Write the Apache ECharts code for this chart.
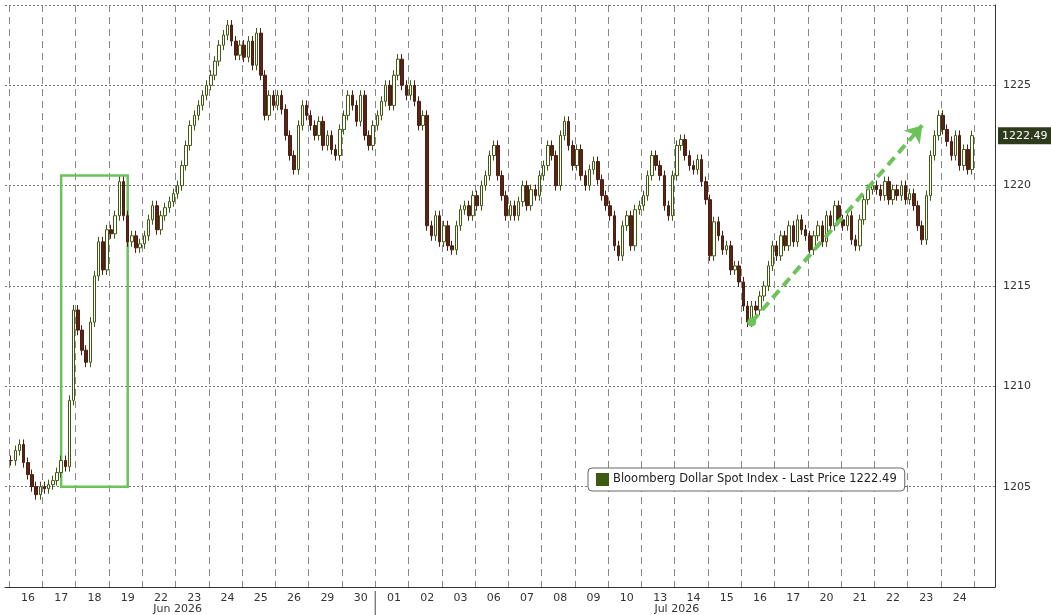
<!DOCTYPE html><html><head><meta charset="utf-8">
<script src="https://cdn.jsdelivr.net/npm/echarts@6/dist/echarts.min.js"></script>
<style>html,body{margin:0;background:#fff}#c{width:1051px;height:615px}</style></head><body><div id="c"></div><script>
const dayLabels=['16','17','18','19','22','23','24','25','26','29','30','01','02','03','06','07','08','09','10','13','14','15','16','17','20','21','22','23','24'];
const closesByDay=[
[1206.3,1206.8,1207.1,1206.2,1205.6,1205.0,1204.6,1205.0],
[1204.9,1205.1,1205.3,1205.7,1206.3,1206.0,1209.3,1213.8],
[1212.8,1211.8,1211.2,1213.2,1215.5,1217.2,1215.8,1217.8],
[1217.6,1218.5,1220.2,1218.5,1217.2,1217.5,1216.9,1217.1],
[1217.5,1218.3,1219.0,1217.8,1218.5,1218.9,1219.2,1219.6],
[1220.0,1221.0,1222.0,1223.0,1223.5,1224.0,1224.5,1225.0],
[1225.5,1226.2,1227.0,1227.5,1228.0,1227.2,1226.5,1227.0],
[1226.4,1227.2,1226.0,1227.6,1225.5,1223.5,1224.5,1224.0],
[1224.5,1223.8,1222.5,1221.5,1220.8,1223.0,1224.0,1223.5],
[1223.0,1222.5,1223.2,1222.0,1222.5,1221.8,1221.5,1222.8],
[1223.5,1224.5,1224.0,1223.2,1224.5,1222.5,1222.0,1223.0],
[1223.5,1224.2,1225.0,1224.0,1225.5,1226.3,1225.0,1224.5],
[1225.0,1224.2,1223.0,1223.5,1218.0,1217.5,1218.5,1217.2],
[1218.0,1217.0,1216.8,1218.0,1218.8,1219.0,1218.5,1219.5],
[1219.0,1220.0,1220.5,1221.5,1222.0,1220.5,1219.5,1218.5],
[1219.0,1218.5,1219.2,1220.0,1219.0,1219.8,1219.5,1220.5],
[1221.0,1222.0,1221.5,1220.0,1222.5,1223.2,1222.0,1221.0],
[1221.8,1220.5,1220.0,1220.8,1221.2,1220.3,1219.5,1219.0],
[1218.5,1217.0,1216.5,1218.0,1218.5,1217.0,1218.8,1219.0],
[1219.5,1220.5,1221.5,1221.0,1220.5,1219.0,1218.5,1220.5],
[1222.0,1222.3,1221.5,1221.0,1220.8,1221.3,1220.2,1219.3],
[1216.5,1218.2,1217.5,1216.8,1217.0,1215.8,1216.0,1215.2],
[1214.0,1213.2,1214.0,1213.8,1214.5,1215.0,1216.0,1217.0],
[1216.5,1217.5,1217.0,1218.0,1217.2,1218.3,1217.8,1217.5],
[1216.8,1217.5,1218.0,1217.2,1218.5,1218.0,1219.0,1218.3],
[1218.0,1218.5,1217.3,1217.0,1218.3,1219.3,1219.8,1220.0],
[1219.8,1219.5,1220.2,1219.3,1219.8,1219.5,1220.0,1219.3],
[1219.6,1219.0,1218.0,1217.3,1219.5,1221.5,1222.5,1223.5],
[1222.8,1222.2,1221.5,1222.5,1221.0,1221.8,1220.8,1222.49]];
const yTicks=[1205,1210,1215,1220,1225];
const lastPrice=1222.49;
const PER=8, LEAD=1, TRAIL=5;
const cats=[], dayLab=[], monthLab=[], ohlc=[];
for(let i=0;i<LEAD;i++){cats.push('');dayLab.push('');monthLab.push('');ohlc.push('-');}
let prev=closesByDay[0][0];
closesByDay.forEach((d,k)=>{d.forEach((c,j)=>{const idx=cats.length;cats.push(String(idx));
 dayLab.push(j===4?dayLabels[k]:'');monthLab.push('');
 const o=prev;ohlc.push([o,c,Math.min(o,c)-0.25,Math.max(o,c)+0.25]);prev=c;});});
for(let i=0;i<TRAIL;i++){cats.push('t'+i);dayLab.push('');monthLab.push('');ohlc.push('-');}
monthLab[41]='Jun 2026';monthLab[161]='Jul 2026';
const julStart=LEAD+11*PER;
const ch=echarts.init(document.getElementById('c'));
const F='"DejaVu Sans", sans-serif';
ch.setOption({animation:false,backgroundColor:'#fff',
grid:{left:5,right:56,top:5,bottom:24},
legend:{left:588,top:468,data:['Bloomberg Dollar Spot Index - Last Price 1222.49'],icon:'rect',itemWidth:11,itemHeight:11,
 itemStyle:{color:'#3d5a10',borderColor:'#3d5a10'},
 borderColor:'#666',borderWidth:1,borderRadius:4,padding:[5,8],backgroundColor:'#fff',textStyle:{fontFamily:F,fontSize:11.5,color:'#222'}},
xAxis:[{type:'category',data:cats,boundaryGap:true,
 axisLine:{lineStyle:{color:'#333'}},axisTick:{show:false},
 axisLabel:{interval:0,formatter:(v,i)=>dayLab[i],color:'#333',fontFamily:F,fontSize:11,margin:6},
 splitLine:{show:true,interval:(i)=>(i-LEAD)%PER===0&&i>0,lineStyle:{type:[7,5],color:'#888'}}},
 {type:'category',data:cats,position:'bottom',offset:14,boundaryGap:true,axisLine:{show:false},axisTick:{show:false},
 axisLabel:{interval:0,formatter:(v,i)=>monthLab[i],color:'#333',fontFamily:F,fontSize:11,margin:3}}],
yAxis:{type:'value',position:'right',min:1200,max:1229,interval:5,
 axisLine:{show:true,lineStyle:{color:'#333'}},axisTick:{show:false},
 axisLabel:{formatter:v=>yTicks.includes(v)?String(v):'',color:'#333',fontFamily:F,fontSize:11},
 splitLine:{show:true,lineStyle:{type:[2,2],color:'#777'}}},
series:[{type:'candlestick',name:'Bloomberg Dollar Spot Index - Last Price 1222.49',data:ohlc,barWidth:3,
 itemStyle:{color:'#ffffff',color0:'#5b2316',borderColor:'#3d5a10',borderColor0:'#4a1e10',borderWidth:1},
 markArea:{silent:true,itemStyle:{color:'rgba(0,0,0,0)',borderColor:'#6cc35a',borderWidth:2.5},
  data:[[{xAxis:13,yAxis:1220.5},{xAxis:29,yAxis:1205}]]},
 markLine:{silent:true,symbol:['none','none'],
  data:[
   [{coord:[179,1213.2],symbol:'circle',symbolSize:9},{coord:[220,1223.0],symbol:'arrow',symbolSize:16}]],
  lineStyle:{color:'#6cc35a',width:4,type:[10,6]},label:{show:false}}},
 {type:'line',data:[],silent:true,
  markLine:{silent:true,symbol:['none','none'],data:[{yAxis:lastPrice}],lineStyle:{width:0,color:'rgba(0,0,0,0)'},
   label:{show:true,position:'end',formatter:'1222.49',backgroundColor:'#2d3b1c',color:'#fff',padding:[3,4],fontFamily:F,fontSize:11,distance:3}}}]});
const x0=ch.convertToPixel({xAxisIndex:0},julStart)-ch.getModel().getComponent('xAxis',0).axis.getBandWidth()/2;
ch.setOption({graphic:[{type:'line',shape:{x1:x0,y1:591,x2:x0,y2:615},style:{stroke:'#444',lineWidth:1}}]});
</script></body></html>
